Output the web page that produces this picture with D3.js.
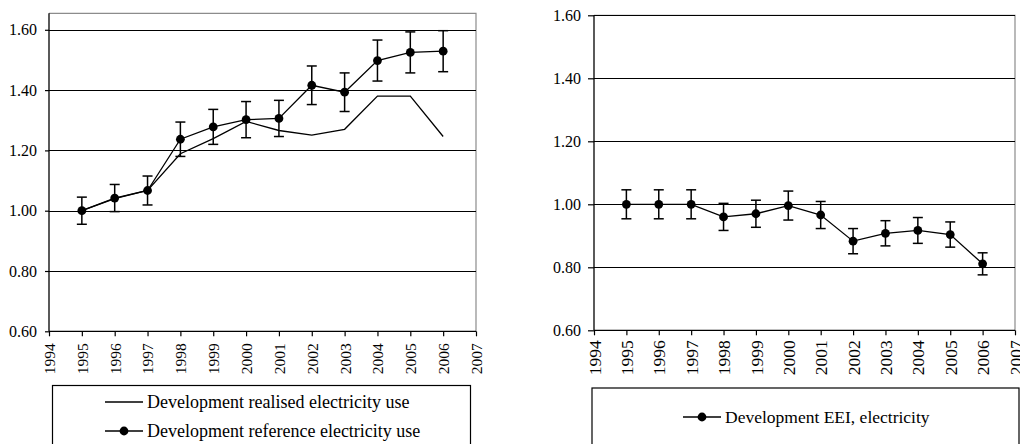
<!DOCTYPE html>
<html><head><meta charset="utf-8">
<script src="https://cdn.jsdelivr.net/npm/d3@7"></script>
<style>body{margin:0;background:#fff}svg{display:block}</style>
</head><body><svg id="c" width="1020" height="444" font-family="Liberation Serif"></svg>
<script>
const years = [1995,1996,1997,1998,1999,2000,2001,2002,2003,2004,2005,2006];
const realised = [1.000,1.040,1.067,1.189,1.239,1.296,1.266,1.251,1.270,1.380,1.380,1.246];
const reference = [1.000,1.042,1.067,1.237,1.278,1.302,1.306,1.416,1.393,1.498,1.525,1.529];
const refErr = [0.045,0.045,0.048,0.057,0.058,0.060,0.060,0.064,0.064,0.068,0.068,0.068];
const eei = [1.000,1.000,1.000,0.960,0.970,0.996,0.966,0.883,0.908,0.917,0.904,0.811];
const eeiErr = [0.046,0.046,0.046,0.043,0.043,0.046,0.043,0.040,0.040,0.041,0.040,0.035];
const yTicks = [0.60,0.80,1.00,1.20,1.40,1.60];
const xTicks = d3.range(1994,2008);
const legendLeft = ["Development realised electricity use","Development reference electricity use"];
const legendRight = ["Development EEI, electricity"];

const FONT = "Liberation Serif";
const svg = d3.select("#c");

function panel(o){
  const x = d3.scaleLinear().domain([1994,2007]).range([o.x0,o.x1]);
  const y = d3.scaleLinear().domain([0.6,o.ymax]).range([o.y0,o.y1]);
  const g = svg.append("g");
  g.append("path").attr("d",`M${o.x0},${y(o.ymax)}H${o.x1}V${o.y0}`).attr("fill","none").attr("stroke","#8c8c8c").attr("stroke-width",1.2);
  g.selectAll(".grid").data(yTicks.filter(t=>t>0.6)).join("line")
    .attr("x1",o.x0).attr("x2",o.x1).attr("y1",d=>Math.round(y(d))+0.5).attr("y2",d=>Math.round(y(d))+0.5)
    .attr("stroke","#000").attr("stroke-width",1);
  const ya = g.append("g").attr("transform",`translate(${o.x0},0)`)
    .call(d3.axisLeft(y).tickValues(yTicks).tickFormat(d3.format(".2f")).tickSize(o.ytick).tickPadding(o.ypad));
  ya.attr("font-family",FONT).attr("font-size",o.yfs);
  ya.select(".domain").attr("stroke","#000").attr("stroke-width",1.3).attr("d",`M0,${y(o.ymax)}V${o.y0}`);
  ya.selectAll("line").attr("stroke","#000").attr("stroke-width",1.2);
  ya.selectAll("text").attr("font-family",FONT).attr("font-size",o.yfs).attr("fill","#000");
  const xa = g.append("g").attr("transform",`translate(0,${o.y0})`)
    .call(d3.axisBottom(x).tickValues(xTicks).tickFormat(d3.format("d")).tickSize(5));
  xa.attr("font-family",FONT).attr("font-size",o.xfs);
  xa.select(".domain").attr("stroke","#000").attr("stroke-width",1.3).attr("d",`M${o.x0},0H${o.x1}`);
  xa.selectAll("line").attr("stroke","#000").attr("stroke-width",1.2);
  xa.selectAll("text").attr("font-family",FONT).attr("font-size",o.xfs).attr("fill","#000")
    .attr("transform","rotate(-90)").attr("text-anchor","end").attr("x",-o.xoff).attr("y",0).attr("dy","0.35em");
  return {x,y,g};
}

function series(p, vals, err, markers){
  const line = d3.line().x((d,i)=>p.x(years[i])).y(d=>p.y(d));
  p.g.append("path").datum(vals).attr("d",line).attr("fill","none").attr("stroke","#000").attr("stroke-width",1.3);
  if(err){
    const eb = p.g.append("g");
    years.forEach((yr,i)=>{
      const cx=p.x(yr), t=p.y(vals[i]+err[i]), b=p.y(vals[i]-err[i]);
      eb.append("line").attr("x1",cx).attr("x2",cx).attr("y1",t).attr("y2",b).attr("stroke","#000").attr("stroke-width",1.5);
      eb.append("line").attr("x1",cx-5).attr("x2",cx+5).attr("y1",t).attr("y2",t).attr("stroke","#000").attr("stroke-width",1.5);
      eb.append("line").attr("x1",cx-5).attr("x2",cx+5).attr("y1",b).attr("y2",b).attr("stroke","#000").attr("stroke-width",1.5);
    });
  }
  if(markers){
    p.g.selectAll(null).data(vals).join("circle").attr("cx",(d,i)=>p.x(years[i])).attr("cy",d=>p.y(d)).attr("r",4.4).attr("fill","#000");
  }
}

const L = panel({x0:49,x1:476,y0:331.3,y1:13.3,ymax:1.6547,ytick:4,ypad:8,yfs:16,xfs:15.5,xoff:12});
series(L, realised, null, false);
series(L, reference, refErr, true);

const R = panel({x0:594,x1:1015,y0:330.3,y1:15.3,ymax:1.6,ytick:6,ypad:7,yfs:16,xfs:17.5,xoff:10});
series(R, eei, eeiErr, true);

svg.append("rect").attr("x",52.5).attr("y",385.5).attr("width",418).attr("height",70).attr("fill","none").attr("stroke","#000").attr("stroke-width",1.2);
const ll = svg.append("g");
legendLeft.forEach((t,i)=>{
  const yy = [402,431][i];
  ll.append("line").attr("x1",105).attr("x2",143).attr("y1",yy).attr("y2",yy).attr("stroke","#000").attr("stroke-width",1.3);
  if(i===1) ll.append("circle").attr("cx",124).attr("cy",yy).attr("r",4.4).attr("fill","#000");
  ll.append("text").attr("x",147).attr("y",yy).attr("dy","0.33em").attr("font-family",FONT).attr("font-size",18).text(t);
});
svg.append("rect").attr("x",592).attr("y",388).attr("width",427).attr("height",70).attr("fill","none").attr("stroke","#000").attr("stroke-width",1.2);
const rl = svg.append("g");
legendRight.forEach((t,i)=>{
  const yy = 417;
  rl.append("line").attr("x1",683).attr("x2",721).attr("y1",yy).attr("y2",yy).attr("stroke","#000").attr("stroke-width",1.3);
  rl.append("circle").attr("cx",702).attr("cy",yy).attr("r",4.4).attr("fill","#000");
  rl.append("text").attr("x",725).attr("y",yy).attr("dy","0.33em").attr("font-family",FONT).attr("font-size",17.5).text(t);
});
</script></body></html>
